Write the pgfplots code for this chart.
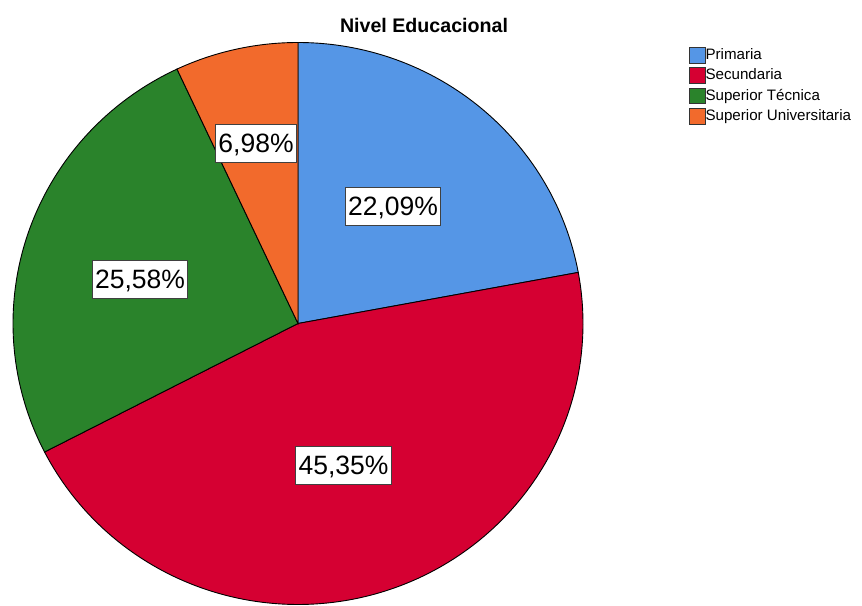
\documentclass[border=0pt]{standalone}
\usepackage{fontspec}
\setmainfont{Liberation Sans}
\usepackage{pgfplots}
\usepackage{pgfplotstable}
\pgfplotsset{compat=1.18}
\definecolor{cPrim}{HTML}{5596E6}
\definecolor{cSec}{HTML}{D50032}
\definecolor{cTec}{HTML}{2A832B}
\definecolor{cUni}{HTML}{F26A2C}

\pgfplotstableread{
cat pct
Primaria 22.09
Secundaria 45.35
Tecnica 25.58
Universitaria 6.98
}\piedata

\pgfplotstableread{
x y label
393 400 {22,09\%}
343.5 141 {45,35\%}
140 327 {25,58\%}
256 462.5 {6,98\%}
}\labeldata

\pgfplotstablegetelem{0}{pct}\of\piedata \let\pA\pgfplotsretval
\pgfplotstablegetelem{1}{pct}\of\piedata \let\pB\pgfplotsretval
\pgfplotstablegetelem{2}{pct}\of\piedata \let\pC\pgfplotsretval
\pgfplotstablegetelem{3}{pct}\of\piedata \let\pD\pgfplotsretval
\pgfmathsetmacro\aA{90}
\pgfmathsetmacro\aB{\aA-3.6*\pA}
\pgfmathsetmacro\aC{\aB-3.6*\pB}
\pgfmathsetmacro\aD{\aC-3.6*\pC}
\pgfmathsetmacro\aE{\aD-3.6*\pD}

\begin{document}
\begin{tikzpicture}
\begin{axis}[
  scale only axis, width=862bp, height=606bp,
  xmin=0, xmax=862, ymin=0, ymax=606,
  hide axis,
  legend style={at={(axis cs:688.5,559)}, anchor=north west, draw=none, fill=none,
    font=\fontsize{15.2}{17}\selectfont, inner sep=0pt,
    row sep=4bp,
    nodes={inner sep=0pt, text height=11.5bp, text depth=3bp}},
  legend cell align=left,
  /tikz/every even column/.append style={column sep=5bp},
  legend image code/.code={\draw[#1,draw=black!80,line width=0.8bp] (0bp,-7.75bp) rectangle (16bp,7.75bp);},
]
\addplot[fill=cPrim, draw=black, line width=0.9bp, domain=\aB:\aA, samples=120]
  ({298+285*cos(x)},{282.5+281*sin(x)}) -- (axis cs:298,282.5) -- cycle;
\addlegendentry{Primaria}
\addplot[fill=cSec, draw=black, line width=0.9bp, domain=\aC:\aB, samples=200]
  ({298+285*cos(x)},{282.5+281*sin(x)}) -- (axis cs:298,282.5) -- cycle;
\addlegendentry{Secundaria}
\addplot[fill=cTec, draw=black, line width=0.9bp, domain=\aD:\aC, samples=120]
  ({298+285*cos(x)},{282.5+281*sin(x)}) -- (axis cs:298,282.5) -- cycle;
\addlegendentry{Superior Técnica}
\addplot[fill=cUni, draw=black, line width=0.9bp, domain=\aE:\aD, samples=60]
  ({298+285*cos(x)},{282.5+281*sin(x)}) -- (axis cs:298,282.5) -- cycle;
\addlegendentry{Superior Universitaria}

\addplot[only marks, mark=none, nodes near coords, point meta=explicit symbolic,
  every node near coord/.style={anchor=center, draw=black!75, line width=0.9bp, fill=white,
    font=\fontsize{26.6}{30}\selectfont, inner xsep=3bp, inner ysep=9.5bp,
    text height=19bp, text depth=0bp}]
  table[x=x, y=y, meta=label] {\labeldata};

\node[font=\bfseries\fontsize{19.7}{22}\selectfont, anchor=base] at (axis cs:424,573.5) {Nivel Educacional};
\end{axis}
\pgfresetboundingbox
\path (current axis.south west) rectangle (current axis.north east);
\end{tikzpicture}
\end{document}
